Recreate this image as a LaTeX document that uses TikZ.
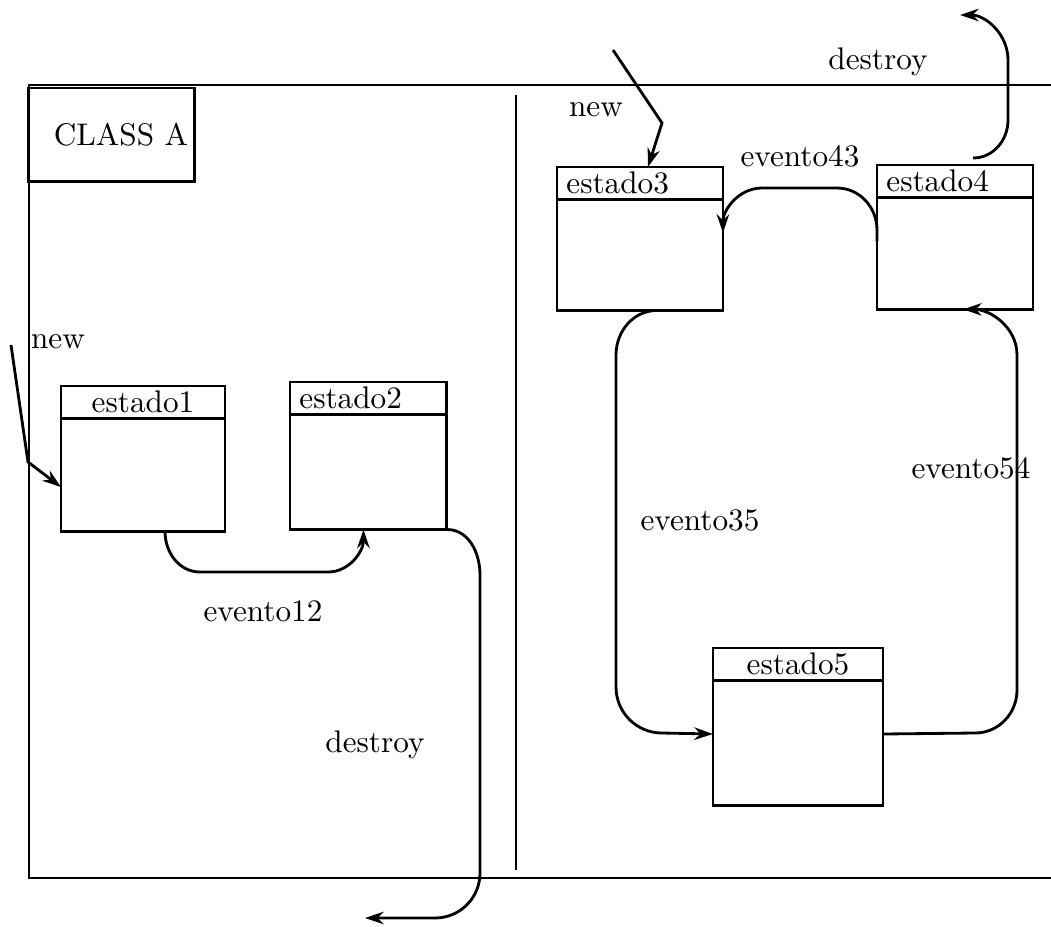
\documentclass[tikz,border=0pt]{standalone}
\usepackage{tikz}
\usetikzlibrary{arrows.meta, calc, positioning}

\begin{document}
\begin{tikzpicture}[x=0.32pt, y=-0.32pt,
    box/.style={draw, line width=0.9pt, outer sep=0pt, inner sep=0pt},
    hdr/.style={box, anchor=north west, minimum width=#1, minimum height=10.4pt,
        text width=#1-6pt, inner xsep=3pt, align=left},
    bdy/.style 2 args={box, minimum width=#1, minimum height=#2},
    lbl/.style={inner sep=1pt},
    tr/.style={line width=0.9pt, -{Stealth[length=6pt, width=4pt]}},
]
    \useasboundingbox (0,0) rectangle (1051,926);

    % frame of the class
    \draw[line width=0.9pt] (1051,85) -- (29,85) -- (29,878) -- (1051,878);
    \draw[line width=0.9pt] (516,95) -- (516,870);
    \node[box, anchor=north west, minimum width=53.4pt, minimum height=29.8pt,
        text width=49pt, align=right] (cls) at (28,88) {CLASS A};

    % states
    \node[hdr=52.5pt, align=center] (h1) at (61,386) {estado1};
    \node[bdy={52.5pt}{36.2pt}, below=0pt of h1] (b1) {};
    \node[hdr=50.2pt] (h2) at (290,382) {estado2};
    \node[bdy={50.2pt}{36.8pt}, below=0pt of h2] (b2) {};
    \node[hdr=53.1pt] (h3) at (557,167) {estado3};
    \node[bdy={53.1pt}{35.5pt}, below=0pt of h3] (b3) {};
    \node[hdr=49.9pt] (h4) at (877,165) {estado4};
    \node[bdy={49.9pt}{35.8pt}, below=0pt of h4] (b4) {};
    \node[hdr=54.4pt, align=center] (h5) at (713,648) {estado5};
    \node[bdy={54.4pt}{40pt}, below=0pt of h5] (b5) {};

    % free ends
    \coordinate (n1) at (11,345);
    \coordinate (n3) at (613,50);
    \coordinate (d1) at (365,918);
    \coordinate (d4) at (960,15);

    % transitions
    \draw[tr] (n1) -- (28,462) -- ($(b1.west)+(0,12)$);
    \draw[tr] (n3) -- (662,123) -- ($(h3.north)+(8,0)$);
    \draw[tr] ($(b1.south)+(22,0)$) to[out=-90,in=180] (200,572) -- (328,572)
        to[out=0,in=-90] ($(b2.south)+(-5,0)$);
    \draw[tr] (b2.south east) to[out=0,in=90] (480,575) -- (480,873)
        to[out=-90,in=0] (435,918) -- (d1);
    \draw[tr] ($(b4.west)+(0,-12)$) -- (877,230) to[out=90,in=0] (837,188) -- (762,188)
        to[out=180,in=90] ($(b3.east)+(0,-22)$);
    \draw[tr] ($(h4.north)+(18,-7)$) to[out=0,in=-90] (1008,120) -- (1008,60)
        to[out=90,in=0] (d4);
    \draw[tr] ($(b3.south)+(17,0)$) to[out=180,in=90] (616,355) -- (616,687)
        to[out=-90,in=180] (662,733) -- ($(b5.west)+(0,-9)$);
    \draw[tr] ($(b5.east)+(0,-9)$) -- (975,733) to[out=0,in=-90] (1017,690) -- (1017,355)
        to[out=90,in=0] ($(b4.south)+(8,0)$);

    % labels
    \node[lbl] (ln1) at (58,342) {new};
    \node[lbl] (ln3) at (596,110) {new};
    \node[lbl] (ld4) at (878,62) {destroy};
    \node[lbl] (ld1) at (375,745) {destroy};
    \node[lbl] (l12) at (263,611) {evento12};
    \node[lbl] (l43) at (800,156) {evento43};
    \node[lbl] (l35) at (700,520) {evento35};
    \node[lbl] (l54) at (971,468) {evento54};
\end{tikzpicture}
\end{document}
